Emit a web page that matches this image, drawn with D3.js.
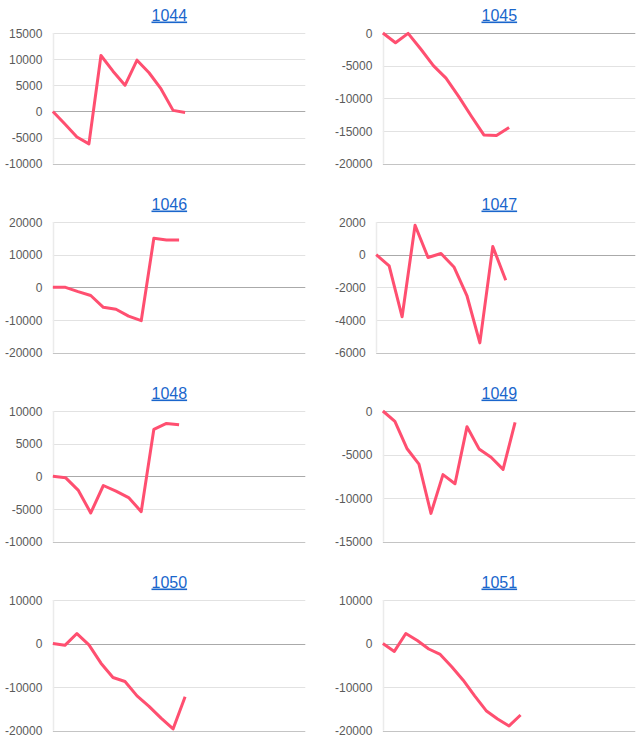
<!DOCTYPE html>
<html>
<head>
<meta charset="utf-8">
<script src="https://cdn.jsdelivr.net/npm/d3@7"></script>
<style>
  html, body { margin: 0; padding: 0; background: #fff; }
  svg { display: block; }
</style>
</head>
<body>
<svg id="chart" width="642" height="743"></svg>
<script>
// ---- data ----
const ids = ["1044", "1045", "1046", "1047", "1048", "1049", "1050", "1051"];

const s1044 = [0, -2400, -4900, -6200, 10700, 7700, 5000, 9800, 7400, 4300, 200, -200];
const s1045 = [0, -1500, -50, -2450, -5000, -6900, -9700, -12700, -15600, -15700, -14450];
const s1046 = [0, 0, -1300, -2500, -6100, -6700, -8800, -10200, 15000, 14500, 14500];
const s1047 = [0, -680, -3800, 1800, -170, 70, -750, -2500, -5400, 500, -1570];
const s1048 = [0, -200, -2100, -5600, -1400, -2250, -3250, -5400, 7200, 8100, 7900];
const s1049 = [0, -1200, -4300, -6100, -11750, -7300, -8350, -1800, -4350, -5300, -6700, -1300];
const s1050 = [0, -400, 2300, -300, -4500, -7800, -8700, -12000, -14400, -17100, -19600, -12200];
const s1051 = [0, -1800, 2300, 700, -1250, -2500, -5300, -8400, -12000, -15400, -17300, -18900, -16400];

const t1044 = [15000, 10000, 5000, 0, -5000, -10000];
const t1045 = [0, -5000, -10000, -15000, -20000];
const t1046 = [20000, 10000, 0, -10000, -20000];
const t1047 = [2000, 0, -2000, -4000, -6000];
const t1048 = [10000, 5000, 0, -5000, -10000];
const t1049 = [0, -5000, -10000, -15000];
const t1050 = [10000, 0, -10000, -20000];
const t1051 = [10000, 0, -10000, -20000];

// number of x categories in each panel (data rows plus empty trailing rows)
const slots = [22, 21, 21, 21, 21, 22, 22, 23];

const seriesList = [s1044, s1045, s1046, s1047, s1048, s1049, s1050, s1051];
const tickList = [t1044, t1045, t1046, t1047, t1048, t1049, t1050, t1051];

// ---- layout / style ----
const colStep = 330, rowStep = 189;
const plotTop0 = 33, plotH = 130.7;
const plotRight0 = 305.3;
const labelLeft0 = 5, labelGap = 10.5;
const titleX0 = 169.3, titleY0 = 20.5;
const lineColor = "#ff4f70";
const font = "Arial, 'Liberation Sans', sans-serif";

const svg = d3.select("#chart");

// text measuring helper
const measurer = svg.append("text")
  .attr("font-family", font).attr("font-size", 12)
  .attr("visibility", "hidden");
function textW(s) { measurer.text(s); return measurer.node().getComputedTextLength(); }

ids.forEach((id, i) => {
  const col = i % 2, row = Math.floor(i / 2);
  const ox = col * colStep, oy = row * rowStep;
  const vals = seriesList[i], ticks = tickList[i];
  const fmt = d => String(d);
  const maxW = d3.max(ticks, t => textW(fmt(t)));
  const left = ox + labelLeft0 + maxW + labelGap;
  const right = ox + plotRight0;
  const top = oy + plotTop0, bottom = top + plotH;

  const x = d3.scaleLinear().domain([0, slots[i] - 1]).range([left, right]);
  const y = d3.scaleLinear().domain([d3.min(ticks), d3.max(ticks)]).range([bottom, top]);

  const g = svg.append("g");

  // title (link style)
  const title = g.append("text")
    .attr("x", ox + titleX0).attr("y", oy + titleY0)
    .attr("text-anchor", "middle")
    .attr("font-family", font).attr("font-size", 16)
    .attr("fill", "#1a66cc")
    .attr("text-decoration", "underline")
    .text(id);

  // gridlines
  const minT = d3.min(ticks);
  g.selectAll("line.grid").data(ticks).join("line")
    .attr("class", "grid")
    .attr("x1", left).attr("x2", right)
    .attr("y1", d => Math.round(y(d)) + 0.5).attr("y2", d => Math.round(y(d)) + 0.5)
    .attr("stroke", d => (d === 0 ? "#aaaaaa" : (d === minT ? "#c4c4c4" : "#e2e2e2")))
    .attr("stroke-width", 1);

  // left axis line (faint)
  g.append("line")
    .attr("x1", Math.round(left) + 0.5).attr("x2", Math.round(left) + 0.5)
    .attr("y1", top).attr("y2", bottom)
    .attr("stroke", "#ebebeb").attr("stroke-width", 1.5);

  // y labels via d3 axis
  const axis = d3.axisLeft(y).tickValues(ticks).tickSize(0).tickPadding(0).tickFormat(fmt);
  const ag = g.append("g")
    .attr("transform", `translate(${left - labelGap},0)`)
    .call(axis);
  ag.select(".domain").remove();
  ag.selectAll("text")
    .attr("font-family", font).attr("font-size", 12)
    .attr("fill", "#5a5a5a")
    .attr("dy", "0.35em");

  // line
  const line = d3.line()
    .x((d, k) => x(k))
    .y(d => y(d));
  g.append("path")
    .datum(vals)
    .attr("d", line)
    .attr("fill", "none")
    .attr("stroke", lineColor)
    .attr("stroke-width", 3)
    .attr("stroke-linejoin", "round");
});

measurer.remove();
</script>
</body>
</html>
